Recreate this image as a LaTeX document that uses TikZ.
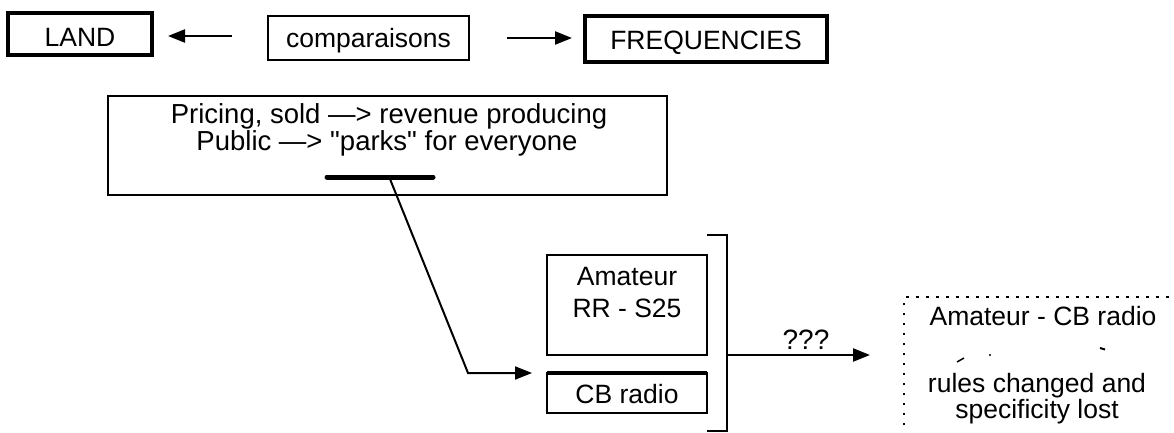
\documentclass[tikz,border=0pt]{standalone}
\usepackage{fontspec}
\setmainfont{Liberation Sans}[Ligatures=TeXOff]
\usetikzlibrary{arrows.meta}
\begin{document}
\begin{tikzpicture}[x=1pt,y=-1pt,
  every node/.style={font=\fontsize{26.5}{30}\selectfont, inner sep=0pt, outer sep=0pt},
  heavybox/.style={draw, rectangle, line width=3.5pt},
  plainbox/.style={draw, rectangle, line width=1.8pt},
  lbl/.style={anchor=base},
  midfont/.style={font=\fontsize{27.5}{30}\selectfont},
  arr/.style={line width=2.3pt, -{Triangle[length=17pt,width=13pt]}},
  dottedframe/.style={line width=2.5pt, dash pattern=on 2.5pt off 7.5pt},
]
\useasboundingbox (0,0) rectangle (1174,433);

% top row
\node[heavybox, minimum width=144pt, minimum height=42pt, text height=26pt, text depth=0pt] (land) at (80,34) {LAND};
\node[plainbox, minimum width=201pt, minimum height=44pt, text height=20pt, text depth=0pt] (comp) at (368.5,38) {comparaisons};
\node[heavybox, minimum width=242pt, minimum height=46pt, text height=22pt, text depth=0pt] (freq) at (706,39) {FREQUENCIES};

\draw[arr, shorten <=36pt, shorten >=16pt] ([yshift=2pt]comp.west) -- ([yshift=2pt]comp.west -| land.east);
\draw[arr, shorten <=38pt, shorten >=13pt] (comp.east) -- (comp.east -| freq.west);

% pricing box
\node[plainbox, minimum width=559pt, minimum height=99pt] (pricing) at (387.5,145.5) {};
\node[lbl, midfont] (pline1) at (389,124) {Pricing, sold —> revenue producing};
\node[lbl, midfont] (pline2) at (387,150.5) {Public —> "parks" for everyone};

% underline under "parks"
\coordinate (ulA) at (327,177);
\coordinate (ulB) at (433,177);
\coordinate (ulM) at (390,179);
\draw[line width=5pt, line cap=round] (ulA) -- (ulB);

% amateur / CB boxes
\node[plainbox, minimum width=160pt, minimum height=100pt] (amat) at (627,305) {};
\node[lbl] (amat1) at (627,285) {Amateur};
\node[lbl] (amat2) at (627,317) {RR - S25};
\node[plainbox, minimum width=160pt, minimum height=40pt, text height=20pt, text depth=0pt] (cb) at (627,393) {CB radio};
\draw[line width=3.5pt] (cb.north west) -- (cb.north east);

% leader from the underline to the CB box
\coordinate (bend) at (468,373);
\draw[arr, line width=2pt, shorten >=15pt] (ulM) -- (bend) -- (cb.north west);

% bracket
\coordinate (bt) at (727,235);
\coordinate (bb) at (727,431);
\coordinate (bm) at (bt |- amat.south);
\draw[line width=1.8pt] (bt -| amat.east) -- (bt) -- (bb) -- (bb -| amat.east);

% dotted frame (runs off the right and bottom edges)
\coordinate (res) at (904,297);
\draw[dottedframe] (res |- 0,445) -- (res) -- (res -| 1190,0);

\draw[arr, shorten >=34pt] (bm) -- (bm -| res);
\node[lbl, font=\fontsize{28}{30}\selectfont] (qqq) at (806,349) {???};

% text in the dotted frame
\node[lbl] (res1) at (1043,325) {Amateur - CB radio};
\node[lbl] (res2) at (1037,392) {rules changed and};
\node[lbl] (res3) at (1037,418) {specificity lost};
\draw[line width=1.5pt] (957,362) -- (964,358);
\fill (990,355) circle (1.2pt);
\draw[line width=2pt] (1100,348) -- (1105,349.5);
\end{tikzpicture}
\end{document}
